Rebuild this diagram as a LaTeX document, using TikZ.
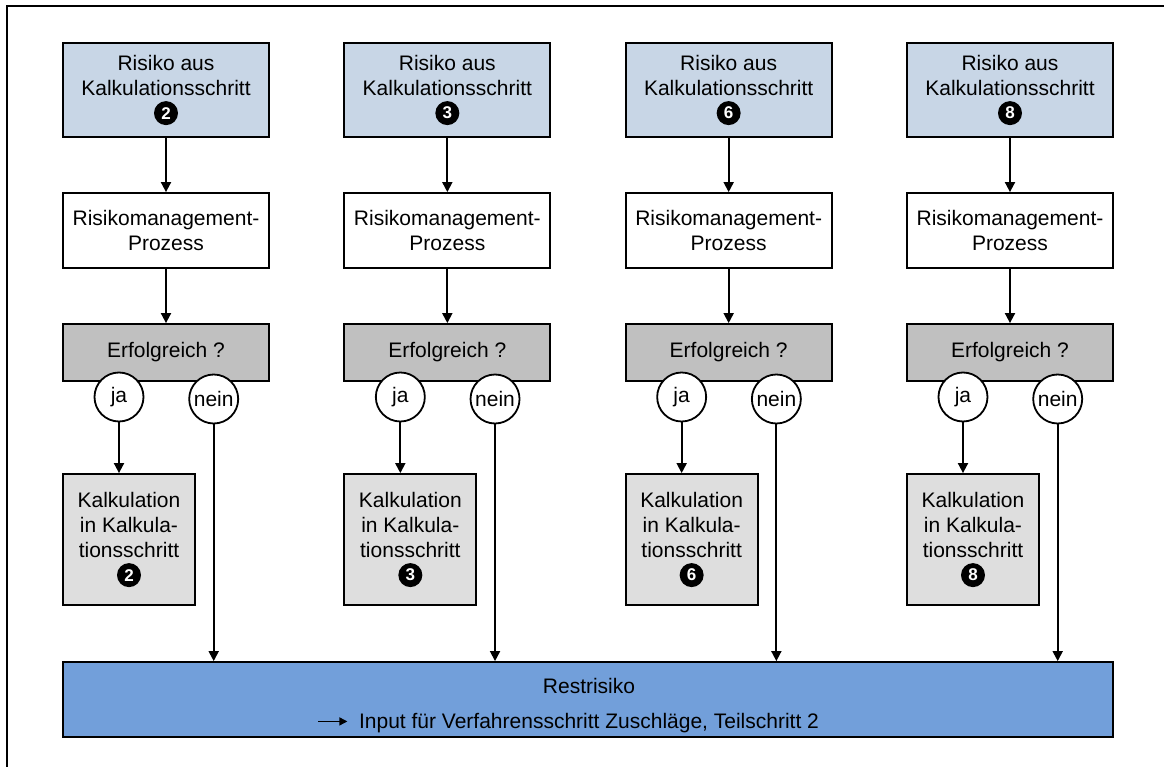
\documentclass[tikz,border=0pt]{standalone}
\usepackage{fontspec}
\setmainfont{Liberation Sans}
\usetikzlibrary{arrows.meta,shapes.geometric}

\definecolor{riskfill}{RGB}{200,214,230}
\definecolor{askfill}{RGB}{192,192,192}
\definecolor{calcfill}{RGB}{222,222,222}
\definecolor{restfill}{RGB}{114,159,218}

% black disc with a white step number
\newcommand{\stepdisc}[1]{\tikz[baseline=-7pt]\node[circle,fill=black,inner sep=0pt,minimum size=24pt,text=white,font=\bfseries\fontsize{17}{17}\selectfont]{#1};}
% small arrow in front of a text line
\newcommand{\leadarrow}{\tikz[baseline=-7pt]\draw[line width=1.4pt,-{Triangle[length=8pt,width=8pt]}] (0pt,0pt) -- (29pt,0pt);}

\tikzset{
  box/.style={draw=black,line width=1.8pt,rectangle,inner sep=2pt,align=center,
              font=\fontsize{21}{25}\selectfont},
  riskbox/.style={box,fill=riskfill,minimum width=206pt,minimum height=94pt},
  procbox/.style={box,fill=white,minimum width=206pt,minimum height=75pt},
  askbox/.style={box,fill=askfill,minimum width=206pt,minimum height=57pt},
  calcbox/.style={box,fill=calcfill,minimum width=132pt,minimum height=131pt},
  restbox/.style={box,fill=restfill,minimum width=1050pt,minimum height=75pt},
  answer/.style={circle,draw=black,fill=white,line width=1.8pt,inner sep=0pt,
                 minimum size=49pt,font=\fontsize{21}{25}\selectfont},
  flow/.style={line width=1.8pt,-{Triangle[length=10pt,width=10pt]}},
}

\begin{document}
\begin{tikzpicture}[x=1pt,y=-1pt]
\useasboundingbox (0,0) rectangle (1164,767);

% outer frame
\draw[line width=2.5pt] (7,767) -- (7,6) -- (1164,6);

% common result box
\node[restbox] (rest) at (588,699.5) {};
\node[font=\fontsize{21}{25}\selectfont,align=center,inner sep=0pt] (resttext) at (589,705.5)
  {Restrisiko\\[10pt]\llap{\leadarrow\hspace{11pt}}Input für Verfahrensschritt Zuschläge, Teilschritt 2};

\foreach \i/\n in {0/2,1/3,2/6,3/8}{
  \pgfmathsetmacro{\xo}{63+\i*281.33}
  \node[riskbox] (top\i) at (\xo+103,90) {Risiko aus\\Kalkulationsschritt\\\stepdisc{\n}};
  \node[procbox] (proc\i) at (\xo+103,230.5) {Risikomanagement-\\Prozess};
  \node[askbox] (ask\i) at (\xo+103,352.5) {Erfolgreich ?};
  \node[answer] (yes\i) at (\xo+56,397) {ja};
  \node[answer] (no\i) at (\xo+150.7,399) {nein};
  \node[calcbox] (calc\i) at (\xo+66,539.5) {Kalkulation\\in Kalkula-\\tionsschritt\\\stepdisc{\n}};
  \draw[flow] (top\i) -- (proc\i);
  \draw[flow] (proc\i) -- (ask\i);
  \draw[flow] (yes\i.south) -- (yes\i.south |- calc\i.north);
  \draw[flow] (no\i.south) -- (no\i.south |- rest.north);
}
\end{tikzpicture}
\end{document}
